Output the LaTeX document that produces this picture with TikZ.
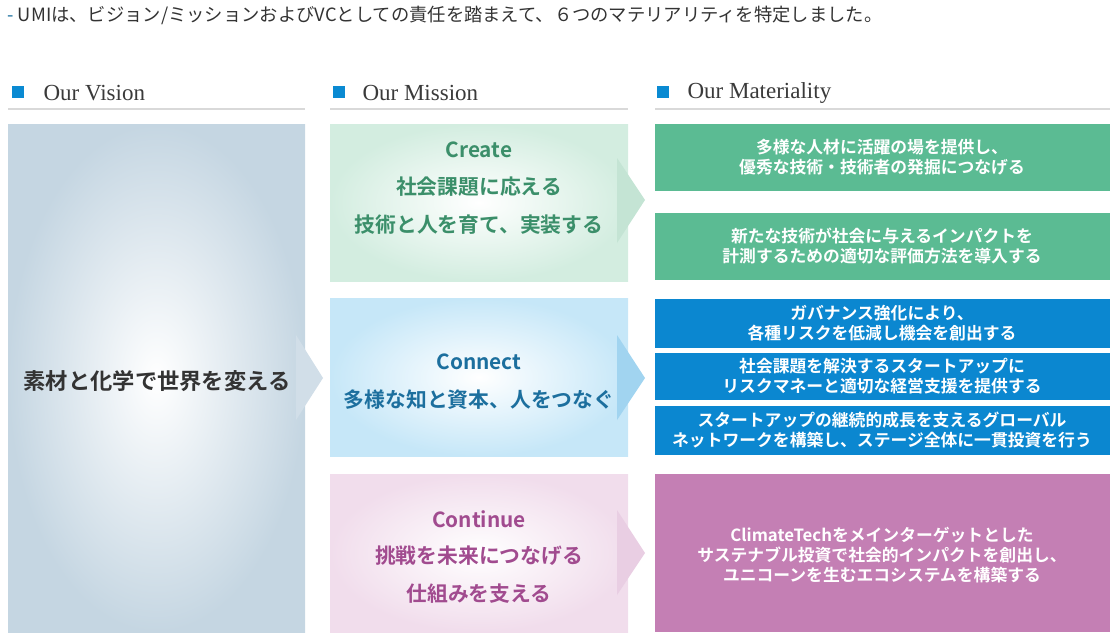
\documentclass[tikz,border=0pt]{standalone}
\usepackage{fontspec}
\newfontfamily\jp{Noto Sans CJK JP}
\newfontfamily\jpb{Noto Sans CJK JP Bold}
\newfontfamily\hd{Liberation Serif}
\definecolor{vblue}{HTML}{C5D6E2}
\definecolor{cgreen}{HTML}{D3EDE0}
\definecolor{cblue}{HTML}{C6E7F8}
\definecolor{cpink}{HTML}{F1DDEC}
\definecolor{tgreen}{HTML}{3B8F6A}
\definecolor{tblue}{HTML}{1C6F9E}
\definecolor{tpink}{HTML}{A14B8F}
\definecolor{mgreen}{HTML}{5BBB93}
\definecolor{mblue}{HTML}{0B87D0}
\definecolor{mpink}{HTML}{C47FB4}
\definecolor{sq}{HTML}{0A8AD2}
\definecolor{hdgray}{HTML}{3A3A3A}
\begin{document}
\begin{tikzpicture}[x=1pt,y=-1pt,
 mat/.style={text=white,font=\jpb\fontsize{16.8}{20}\selectfont,align=center},
 mis/.style={font=\jpb\fontsize{20.8}{20}\selectfont,anchor=center},
 hdr/.style={font=\hd\fontsize{23}{23}\selectfont,text=hdgray,anchor=west}]
\useasboundingbox (0,0) rectangle (1116,642);
\node[anchor=west,font=\jp\fontsize{18.3}{18}\selectfont,text=black!80] (top) at (4,15) {\textcolor{tblue}{-} UMIは、ビジョン/ミッションおよびVCとしての責任を踏まえて、６つのマテリアリティを特定しました。};
% headers
\foreach \sx/\tx/\la/\lb/\t/\n in {12/40/8/305/Our Vision/h1,333/359/330/628/Our Mission/h2,657/684/655/1110/Our Materiality/h3}{
 \fill[sq] (\sx,86) rectangle ++(12,12);
 \node[hdr] (\n) at (\tx,93) {\t};
 \draw[black!15,line width=1.2pt] (\la,109) -- (\lb,109);
}
% vision
\shade[inner color=white,outer color=vblue] (8,124) rectangle (305,632);
\fill[vblue!80!white] (296,335) -- (323,378) -- (296,420) -- cycle;
\node[font=\jpb\fontsize{22.3}{20}\selectfont,text=black!80] (vis) at (157,381) {素材と化学で世界を変える};
% mission boxes
\shade[inner color=white,outer color=cgreen] (330,124) rectangle (628,281);
\fill[cgreen!90!tgreen] (617,158) -- (645,200) -- (617,243) -- cycle;
\node[mis,text=tgreen] (c1) at (479,150) {Create};
\node[mis,text=tgreen] (c2) at (479,187) {社会課題に応える};
\node[mis,text=tgreen] (c3) at (479,225) {技術と人を育て、実装する};
\shade[inner color=white,outer color=cblue] (330,298) rectangle (628,456);
\fill[cblue!80!mblue] (617,335) -- (645,378) -- (617,420) -- cycle;
\node[mis,text=tblue] (n1) at (479,362) {Connect};
\node[mis,text=tblue] (n2) at (479,400) {多様な知と資本、人をつなぐ};
\shade[inner color=white,outer color=cpink] (330,474) rectangle (628,632);
\fill[cpink!90!tpink] (617,510) -- (645,553) -- (617,595) -- cycle;
\node[mis,text=tpink] (p1) at (479,519) {Continue};
\node[mis,text=tpink] (p2) at (479,556) {挑戦を未来につなげる};
\node[mis,text=tpink] (p3) at (479,594) {仕組みを支える};
% materiality
\fill[mgreen] (655,124) rectangle (1110,191);
\node[mat] (m1) at (882,157) {多様な人材に活躍の場を提供し、\\優秀な技術・技術者の発掘につなげる};
\fill[mgreen] (655,213) rectangle (1110,280);
\node[mat] (m2) at (882,246) {新たな技術が社会に与えるインパクトを\\計測するための適切な評価方法を導入する};
\fill[mblue] (655,299) rectangle (1110,348);
\node[mat] (m3) at (882,323) {ガバナンス強化により、\\各種リスクを低減し機会を創出する};
\fill[mblue] (655,353) rectangle (1110,400);
\node[mat] (m4) at (882,376) {社会課題を解決するスタートアップに\\リスクマネーと適切な経営支援を提供する};
\fill[mblue] (655,406) rectangle (1110,455);
\node[mat] (m5) at (882,430) {スタートアップの継続的成長を支えるグローバル\\ネットワークを構築し、ステージ全体に一貫投資を行う};
\fill[mpink] (655,474) rectangle (1110,632);
\node[mat] (m6) at (882,555) {ClimateTechをメインターゲットとした\\サステナブル投資で社会的インパクトを創出し、\\ユニコーンを生むエコシステムを構築する};
\end{tikzpicture}
\end{document}
